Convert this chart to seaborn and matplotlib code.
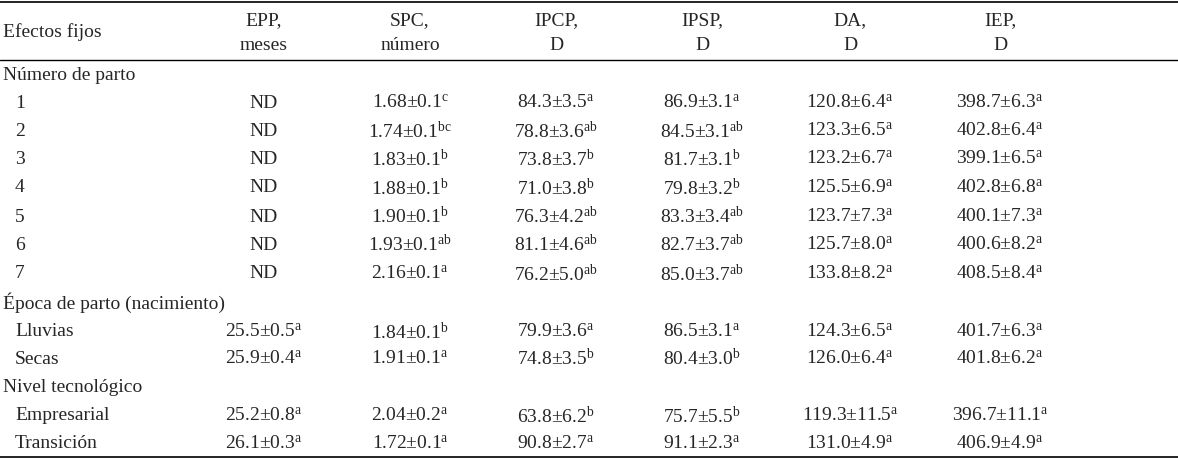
import matplotlib
matplotlib.use("Agg")
import matplotlib.pyplot as plt
import seaborn as sns

sns.set_theme(style="white")
plt.rcParams['font.family'] = ['Liberation Serif', 'DejaVu Serif']
plt.rcParams['mathtext.fontset'] = 'custom'
plt.rcParams['mathtext.rm'] = 'Liberation Serif'

headers = [("EPP,", "meses"), ("SPC,", "número"), ("IPCP,", "D"),
           ("IPSP,", "D"), ("DA,", "D"), ("IEP,", "D")]
groups = ["Número de parto", "Época de parto (nacimiento)", "Nivel tecnológico"]
row_labels = [["1", "2", "3", "4", "5", "6", "7"],
              ["Lluvias", "Secas"],
              ["Empresarial", "Transición"]]

epp = ["ND"] * 7 + ["25.5±0.5 a", "25.9±0.4 a", "25.2±0.8 a", "26.1±0.3 a"]
spc = ["1.68±0.1 c", "1.74±0.1 bc", "1.83±0.1 b", "1.88±0.1 b", "1.90±0.1 b",
       "1.93±0.1 ab", "2.16±0.1 a", "1.84±0.1 b", "1.91±0.1 a", "2.04±0.2 a", "1.72±0.1 a"]
ipcp = ["84.3±3.5 a", "78.8±3.6 ab", "73.8±3.7 b", "71.0±3.8 b", "76.3±4.2 ab",
        "81.1±4.6 ab", "76.2±5.0 ab", "79.9±3.6 a", "74.8±3.5 b", "63.8±6.2 b", "90.8±2.7 a"]
ipsp = ["86.9±3.1 a", "84.5±3.1 ab", "81.7±3.1 b", "79.8±3.2 b", "83.3±3.4 ab",
        "82.7±3.7 ab", "85.0±3.7 ab", "86.5±3.1 a", "80.4±3.0 b", "75.7±5.5 b", "91.1±2.3 a"]
da = ["120.8±6.4 a", "123.3±6.5 a", "123.2±6.7 a", "125.5±6.9 a", "123.7±7.3 a",
      "125.7±8.0 a", "133.8±8.2 a", "124.3±6.5 a", "126.0±6.4 a", "119.3±11.5 a", "131.0±4.9 a"]
iep = ["398.7±6.3 a", "402.8±6.4 a", "399.1±6.5 a", "402.8±6.8 a", "400.1±7.3 a",
       "400.6±8.2 a", "408.5±8.4 a", "401.7±6.3 a", "401.8±6.2 a", "396.7±11.1 a", "406.9±4.9 a"]
columns = [epp, spc, ipcp, ipsp, da, iep]

W, H = 1178, 459
fig = plt.figure(figsize=(W / 100, H / 100), dpi=100)
ax = fig.add_axes([0, 0, 1, 1])
ax.set_xlim(0, W)
ax.set_ylim(H, 0)
ax.axis("off")

fs = 14
col_x = [264, 410, 556, 702, 850, 1000]


def fmt(s):
    if " " not in s:
        return s
    v, sup = s.split(" ")
    return r"$\mathregular{" + v + "^{" + sup + "}}$"


# rules
for y, lw in [(2, 1.2), (60, 1.0), (457, 1.2)]:
    ax.plot([0, W], [y, y], color="black", lw=lw)

ax.text(3, 32, "Efectos fijos", fontsize=fs, va="center", ha="left")
for x, (h1, h2) in zip(col_x, headers):
    ax.text(x, 21, h1, fontsize=fs, va="center", ha="center")
    ax.text(x, 46, h2, fontsize=fs, va="center", ha="center")

row_y = [103, 131, 159, 188, 217, 245, 274, 332, 359, 416, 444]
group_y = [75, 303, 388]

k = 0
for g, gy, labels in zip(groups, group_y, row_labels):
    ax.text(3, gy, g, fontsize=fs, va="center", ha="left")
    for lab in labels:
        y = row_y[k]
        ax.text(15, y, lab, fontsize=fs, va="center", ha="left")
        for x, col in zip(col_x, columns):
            ax.text(x, y, fmt(col[k]), fontsize=fs, va="center", ha="center")
        k += 1

fig.savefig("out.png", dpi=100)
